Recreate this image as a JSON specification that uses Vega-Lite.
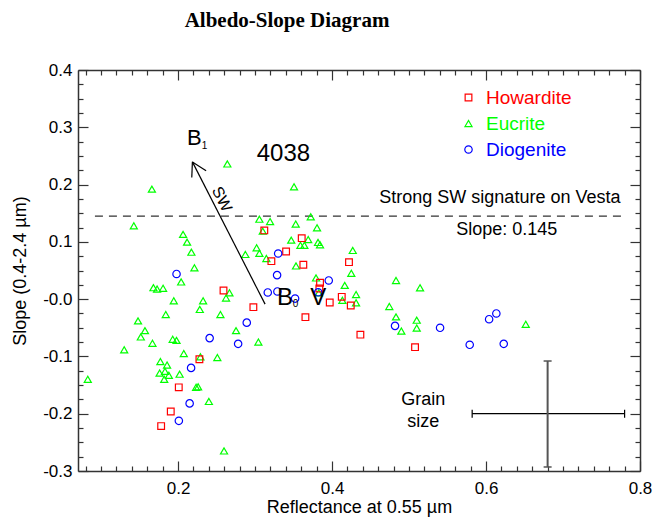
{
  "$schema": "https://vega.github.io/schema/vega-lite/v6.json",
  "width": 562,
  "height": 401,
  "autosize": "none",
  "padding": {"left": 78, "top": 70, "right": 15, "bottom": 47},
  "background": "white",
  "title": {"text": "Albedo-Slope Diagram", "font": "Liberation Serif", "fontSize": 21, "fontWeight": "bold", "color": "#000000", "offset": 30, "anchor": "middle", "dx": -72},
  "config": {
    "view": {"stroke": null},
    "axis": {"domainColor": "#333333", "domainWidth": 1.5, "tickColor": "#333333", "tickWidth": 1.2, "labelFont": "Liberation Sans", "labelFontSize": 17, "labelColor": "#000000", "titleFont": "Liberation Sans", "titleFontSize": 18, "titleFontWeight": "normal", "titleColor": "#000000", "grid": false},
    "text": {"font": "Liberation Sans", "color": "#000000"}
  },
  "datasets": {
    "pts": [
      {"type": "Eucrite", "x": 0.264, "y": 0.236},
      {"type": "Eucrite", "x": 0.166, "y": 0.192},
      {"type": "Eucrite", "x": 0.1425, "y": 0.128},
      {"type": "Eucrite", "x": 0.2065, "y": 0.113},
      {"type": "Eucrite", "x": 0.2117, "y": 0.0995},
      {"type": "Eucrite", "x": 0.2173, "y": 0.082},
      {"type": "Eucrite", "x": 0.2212, "y": 0.0547},
      {"type": "Eucrite", "x": 0.204, "y": 0.030},
      {"type": "Eucrite", "x": 0.168, "y": 0.020},
      {"type": "Eucrite", "x": 0.1727, "y": 0.0175},
      {"type": "Eucrite", "x": 0.1805, "y": 0.019},
      {"type": "Eucrite", "x": 0.2667, "y": 0.011},
      {"type": "Eucrite", "x": 0.2623, "y": 0.002},
      {"type": "Eucrite", "x": 0.1944, "y": -0.003},
      {"type": "Eucrite", "x": 0.2325, "y": -0.003},
      {"type": "Eucrite", "x": 0.2282, "y": -0.018},
      {"type": "Eucrite", "x": 0.184, "y": -0.027},
      {"type": "Eucrite", "x": 0.255, "y": -0.027},
      {"type": "Eucrite", "x": 0.148, "y": -0.038},
      {"type": "Eucrite", "x": 0.157, "y": -0.055},
      {"type": "Eucrite", "x": 0.1516, "y": -0.066},
      {"type": "Eucrite", "x": 0.1667, "y": -0.077},
      {"type": "Eucrite", "x": 0.193, "y": -0.070},
      {"type": "Eucrite", "x": 0.198, "y": -0.072},
      {"type": "Eucrite", "x": 0.130, "y": -0.0885},
      {"type": "Eucrite", "x": 0.2074, "y": -0.095},
      {"type": "Eucrite", "x": 0.229, "y": -0.1006},
      {"type": "Eucrite", "x": 0.251, "y": -0.102},
      {"type": "Eucrite", "x": 0.177, "y": -0.109},
      {"type": "Eucrite", "x": 0.1857, "y": -0.115},
      {"type": "Eucrite", "x": 0.176, "y": -0.129},
      {"type": "Eucrite", "x": 0.183, "y": -0.126},
      {"type": "Eucrite", "x": 0.188, "y": -0.133},
      {"type": "Eucrite", "x": 0.182, "y": -0.140},
      {"type": "Eucrite", "x": 0.202, "y": -0.131},
      {"type": "Eucrite", "x": 0.0827, "y": -0.140},
      {"type": "Eucrite", "x": 0.2234, "y": -0.154},
      {"type": "Eucrite", "x": 0.226, "y": -0.153},
      {"type": "Eucrite", "x": 0.240, "y": -0.1786},
      {"type": "Eucrite", "x": 0.2597, "y": -0.265},
      {"type": "Eucrite", "x": 0.3506, "y": 0.196},
      {"type": "Eucrite", "x": 0.3056, "y": 0.1396},
      {"type": "Eucrite", "x": 0.3195, "y": 0.1355},
      {"type": "Eucrite", "x": 0.3723, "y": 0.1437},
      {"type": "Eucrite", "x": 0.3528, "y": 0.131},
      {"type": "Eucrite", "x": 0.3805, "y": 0.1245},
      {"type": "Eucrite", "x": 0.310, "y": 0.1187},
      {"type": "Eucrite", "x": 0.347, "y": 0.103},
      {"type": "Eucrite", "x": 0.369, "y": 0.104},
      {"type": "Eucrite", "x": 0.3589, "y": 0.094},
      {"type": "Eucrite", "x": 0.364, "y": 0.094},
      {"type": "Eucrite", "x": 0.3818, "y": 0.099},
      {"type": "Eucrite", "x": 0.3844, "y": 0.095},
      {"type": "Eucrite", "x": 0.4269, "y": 0.085},
      {"type": "Eucrite", "x": 0.302, "y": 0.0895},
      {"type": "Eucrite", "x": 0.2874, "y": 0.078},
      {"type": "Eucrite", "x": 0.3056, "y": 0.080},
      {"type": "Eucrite", "x": 0.3147, "y": 0.071},
      {"type": "Eucrite", "x": 0.3532, "y": 0.058},
      {"type": "Eucrite", "x": 0.425, "y": 0.045},
      {"type": "Eucrite", "x": 0.3792, "y": 0.037},
      {"type": "Eucrite", "x": 0.4165, "y": 0.024},
      {"type": "Eucrite", "x": 0.3827, "y": 0.011},
      {"type": "Eucrite", "x": 0.4312, "y": 0.008},
      {"type": "Eucrite", "x": 0.4134, "y": -0.002},
      {"type": "Eucrite", "x": 0.4312, "y": -0.0064},
      {"type": "Eucrite", "x": 0.2753, "y": -0.055},
      {"type": "Eucrite", "x": 0.3043, "y": -0.075},
      {"type": "Eucrite", "x": 0.4831, "y": 0.0326},
      {"type": "Eucrite", "x": 0.5143, "y": 0.0197},
      {"type": "Eucrite", "x": 0.4744, "y": -0.0128},
      {"type": "Eucrite", "x": 0.4831, "y": -0.031},
      {"type": "Eucrite", "x": 0.490, "y": -0.0558},
      {"type": "Eucrite", "x": 0.510, "y": -0.0367},
      {"type": "Eucrite", "x": 0.510, "y": -0.0506},
      {"type": "Eucrite", "x": 0.6516, "y": -0.044},
      {"type": "Howardite", "x": 0.259, "y": 0.015},
      {"type": "Howardite", "x": 0.2277, "y": -0.105},
      {"type": "Howardite", "x": 0.2009, "y": -0.154},
      {"type": "Howardite", "x": 0.1905, "y": -0.196},
      {"type": "Howardite", "x": 0.178, "y": -0.2216},
      {"type": "Howardite", "x": 0.312, "y": 0.120},
      {"type": "Howardite", "x": 0.3606, "y": 0.1065},
      {"type": "Howardite", "x": 0.3403, "y": 0.0832},
      {"type": "Howardite", "x": 0.3212, "y": 0.0663},
      {"type": "Howardite", "x": 0.3627, "y": 0.060},
      {"type": "Howardite", "x": 0.422, "y": 0.0646},
      {"type": "Howardite", "x": 0.3844, "y": 0.0285},
      {"type": "Howardite", "x": 0.3835, "y": 0.0187},
      {"type": "Howardite", "x": 0.4126, "y": 0.004},
      {"type": "Howardite", "x": 0.397, "y": -0.0058},
      {"type": "Howardite", "x": 0.4243, "y": -0.011},
      {"type": "Howardite", "x": 0.2978, "y": -0.014},
      {"type": "Howardite", "x": 0.3654, "y": -0.0314},
      {"type": "Howardite", "x": 0.4368, "y": -0.062},
      {"type": "Howardite", "x": 0.5078, "y": -0.0838},
      {"type": "Diogenite", "x": 0.198, "y": 0.044},
      {"type": "Diogenite", "x": 0.241, "y": -0.068},
      {"type": "Diogenite", "x": 0.2169, "y": -0.12},
      {"type": "Diogenite", "x": 0.215, "y": -0.182},
      {"type": "Diogenite", "x": 0.201, "y": -0.2124},
      {"type": "Diogenite", "x": 0.33, "y": 0.0797},
      {"type": "Diogenite", "x": 0.3286, "y": 0.042},
      {"type": "Diogenite", "x": 0.3957, "y": 0.0326},
      {"type": "Diogenite", "x": 0.3165, "y": 0.0117},
      {"type": "Diogenite", "x": 0.329, "y": 0.0134},
      {"type": "Diogenite", "x": 0.352, "y": 0.001},
      {"type": "Diogenite", "x": 0.382, "y": 0.012},
      {"type": "Diogenite", "x": 0.2892, "y": -0.041},
      {"type": "Diogenite", "x": 0.278, "y": -0.078},
      {"type": "Diogenite", "x": 0.4818, "y": -0.0466},
      {"type": "Diogenite", "x": 0.5403, "y": -0.050},
      {"type": "Diogenite", "x": 0.5788, "y": -0.0797},
      {"type": "Diogenite", "x": 0.604, "y": -0.035},
      {"type": "Diogenite", "x": 0.6134, "y": -0.025},
      {"type": "Diogenite", "x": 0.623, "y": -0.078}
    ],
    "dashed": [{"x": 0.092, "x2": 0.78, "y": 0.145}],
    "blacklines": [
      {"x": 0.313, "y": -0.0087, "x2": 0.2186, "y2": 0.2396},
      {"x": 0.2186, "y": 0.2396, "x2": 0.2178, "y2": 0.2125},
      {"x": 0.2186, "y": 0.2396, "x2": 0.2364, "y2": 0.224},
      {"x": 0.582, "y": -0.2, "x2": 0.78, "y2": -0.2}
    ],
    "graylines": [{"x": 0.68, "y": -0.108, "x2": 0.68, "y2": -0.293}],
    "blackcaps": [{"x": 0.582, "y": -0.2}, {"x": 0.78, "y": -0.2}],
    "graycaps": [{"x": 0.68, "y": -0.108}, {"x": 0.68, "y": -0.293}],
    "t24": [{"t": "4038", "x": 0.3368, "y": 0.254}, {"t": "V", "x": 0.3822, "y": 0.0023}, {"t": "B", "x": 0.339, "y": 0.0023}],
    "t22": [{"t": "B", "x": 0.221, "y": 0.282}],
    "tsub": [{"t": "1", "x": 0.2345, "y": 0.2675}, {"t": "0", "x": 0.3525, "y": -0.0085}],
    "t18": [
      {"t": "Strong SW signature on Vesta", "x": 0.618, "y": 0.176},
      {"t": "Slope: 0.145", "x": 0.627, "y": 0.12},
      {"t": "Grain", "x": 0.5186, "y": -0.176},
      {"t": "size", "x": 0.5186, "y": -0.214}
    ],
    "tsw": [{"t": "SW", "x": 0.2568, "y": 0.1745}]
  },
  "resolve": {"axis": {"x": "independent", "y": "independent"}},
  "layer": [
    {
      "data": {"name": "dashed"},
      "mark": {"type": "rule", "color": "#333333", "strokeWidth": 1.3, "strokeDash": [8, 6]},
      "encoding": {
        "x": {"field": "x", "type": "quantitative", "scale": {"domain": [0.07, 0.8], "nice": false, "zero": false},
          "axis": {"orient": "top", "title": null, "labels": false, "values": [0.08,0.1,0.12,0.14,0.16,0.18,0.2,0.22,0.24,0.26,0.28,0.3,0.32,0.34,0.36,0.38,0.4,0.42,0.44,0.46,0.48,0.5,0.52,0.54,0.56,0.58,0.6,0.62,0.64,0.66,0.68,0.7,0.72,0.74,0.76,0.78,0.8],
            "tickSize": {"condition": {"test": "abs(datum.value*5-round(datum.value*5))<0.001", "value": -10}, "value": -5}}},
        "x2": {"field": "x2"},
        "y": {"field": "y", "type": "quantitative", "scale": {"domain": [-0.3, 0.4], "nice": false, "zero": false},
          "axis": {"orient": "right", "title": null, "labels": false, "values": [-0.3,-0.275,-0.25,-0.225,-0.2,-0.175,-0.15,-0.125,-0.1,-0.075,-0.05,-0.025,0,0.025,0.05,0.075,0.1,0.125,0.15,0.175,0.2,0.225,0.25,0.275,0.3,0.325,0.35,0.375,0.4],
            "tickSize": {"condition": {"test": "abs(datum.value*10-round(datum.value*10))<0.001", "value": -10}, "value": -5}}}
      }
    },
    {
      "data": {"name": "pts"},
      "mark": {"type": "point", "filled": false, "strokeWidth": 1.2, "opacity": 1},
      "encoding": {
        "x": {"field": "x", "type": "quantitative", "scale": {"domain": [0.07, 0.8], "nice": false, "zero": false},
          "axis": {"orient": "bottom", "title": "Reflectance at 0.55 µm", "titlePadding": -3, "labelOverlap": false, "labelFlush": false, "labelPadding": 19,
            "values": [0.08,0.1,0.12,0.14,0.16,0.18,0.2,0.22,0.24,0.26,0.28,0.3,0.32,0.34,0.36,0.38,0.4,0.42,0.44,0.46,0.48,0.5,0.52,0.54,0.56,0.58,0.6,0.62,0.64,0.66,0.68,0.7,0.72,0.74,0.76,0.78,0.8],
            "labelExpr": "abs(datum.value*5-round(datum.value*5))<0.001 ? format(datum.value,'.1f') : ''",
            "tickSize": {"condition": {"test": "abs(datum.value*5-round(datum.value*5))<0.001", "value": -10}, "value": -5}}},
        "y": {"field": "y", "type": "quantitative", "scale": {"domain": [-0.3, 0.4], "nice": false, "zero": false},
          "axis": {"orient": "left", "title": "Slope (0.4-2.4 µm)", "titlePadding": 13, "labelOverlap": false, "labelFlush": false, "labelPadding": 16,
            "values": [-0.3,-0.275,-0.25,-0.225,-0.2,-0.175,-0.15,-0.125,-0.1,-0.075,-0.05,-0.025,0,0.025,0.05,0.075,0.1,0.125,0.15,0.175,0.2,0.225,0.25,0.275,0.3,0.325,0.35,0.375,0.4],
            "labelExpr": "abs(datum.value*10-round(datum.value*10))<0.001 ? (datum.value < 0.0001 ? '-' : '') + format(abs(datum.value),'.1f') : ''",
            "tickSize": {"condition": {"test": "abs(datum.value*10-round(datum.value*10))<0.001", "value": -10}, "value": -5}}},
        "color": {"field": "type", "type": "nominal",
          "scale": {"domain": ["Howardite", "Eucrite", "Diogenite"], "range": ["#ff0000", "#00ff00", "#0000ff"]},
          "legend": {"orient": "none", "legendX": 381, "legendY": 18, "title": null, "labelFont": "Liberation Sans", "labelFontSize": 19, "symbolSize": 40, "symbolStrokeWidth": 1.2, "rowPadding": 6, "labelOffset": 8,
            "encoding": {"labels": {"fill": {"condition": [{"test": "datum.value === 'Howardite'", "value": "#ff0000"}, {"test": "datum.value === 'Eucrite'", "value": "#00ff00"}], "value": "#0000ff"}}}}},
        "shape": {"field": "type", "type": "nominal",
          "scale": {"domain": ["Howardite", "Eucrite", "Diogenite"], "range": ["square", "triangle-up", "circle"]},
          "legend": {"orient": "none", "legendX": 381, "legendY": 18, "title": null, "labelFont": "Liberation Sans", "labelFontSize": 19, "symbolSize": 40, "symbolStrokeWidth": 1.2, "rowPadding": 6, "labelOffset": 8,
            "encoding": {"labels": {"fill": {"condition": [{"test": "datum.value === 'Howardite'", "value": "#ff0000"}, {"test": "datum.value === 'Eucrite'", "value": "#00ff00"}], "value": "#0000ff"}}}}},
        "size": {"field": "type", "type": "nominal", "scale": {"domain": ["Howardite", "Eucrite", "Diogenite"], "range": [45, 55, 80]}, "legend": null}
      }
    },
    {
      "data": {"name": "blacklines"},
      "mark": {"type": "rule", "color": "#000000", "strokeWidth": 1.2},
      "encoding": {
        "x": {"field": "x", "type": "quantitative", "scale": {"domain": [0.07, 0.8], "nice": false, "zero": false}, "axis": null},
        "x2": {"field": "x2"},
        "y": {"field": "y", "type": "quantitative", "scale": {"domain": [-0.3, 0.4], "nice": false, "zero": false}, "axis": null},
        "y2": {"field": "y2"}
      }
    },
    {
      "data": {"name": "graylines"},
      "mark": {"type": "rule", "color": "#555555", "strokeWidth": 2},
      "encoding": {
        "x": {"field": "x", "type": "quantitative", "scale": {"domain": [0.07, 0.8], "nice": false, "zero": false}, "axis": null},
        "y": {"field": "y", "type": "quantitative", "scale": {"domain": [-0.3, 0.4], "nice": false, "zero": false}, "axis": null},
        "y2": {"field": "y2"}
      }
    },
    {
      "data": {"name": "blackcaps"},
      "mark": {"type": "tick", "orient": "vertical", "size": 8, "thickness": 1.2, "color": "#000000", "opacity": 1},
      "encoding": {
        "x": {"field": "x", "type": "quantitative", "scale": {"domain": [0.07, 0.8], "nice": false, "zero": false}, "axis": null},
        "y": {"field": "y", "type": "quantitative", "scale": {"domain": [-0.3, 0.4], "nice": false, "zero": false}, "axis": null}
      }
    },
    {
      "data": {"name": "graycaps"},
      "mark": {"type": "tick", "orient": "horizontal", "size": 8, "thickness": 1.5, "color": "#555555", "opacity": 1},
      "encoding": {
        "x": {"field": "x", "type": "quantitative", "scale": {"domain": [0.07, 0.8], "nice": false, "zero": false}, "axis": null},
        "y": {"field": "y", "type": "quantitative", "scale": {"domain": [-0.3, 0.4], "nice": false, "zero": false}, "axis": null}
      }
    },
    {
      "data": {"name": "t24"},
      "mark": {"type": "text", "fontSize": 24, "align": "center", "baseline": "middle"},
      "encoding": {
        "x": {"field": "x", "type": "quantitative", "scale": {"domain": [0.07, 0.8], "nice": false, "zero": false}, "axis": null},
        "y": {"field": "y", "type": "quantitative", "scale": {"domain": [-0.3, 0.4], "nice": false, "zero": false}, "axis": null},
        "text": {"field": "t"}
      }
    },
    {
      "data": {"name": "t22"},
      "mark": {"type": "text", "fontSize": 22, "align": "center", "baseline": "middle"},
      "encoding": {
        "x": {"field": "x", "type": "quantitative", "scale": {"domain": [0.07, 0.8], "nice": false, "zero": false}, "axis": null},
        "y": {"field": "y", "type": "quantitative", "scale": {"domain": [-0.3, 0.4], "nice": false, "zero": false}, "axis": null},
        "text": {"field": "t"}
      }
    },
    {
      "data": {"name": "tsub"},
      "mark": {"type": "text", "fontSize": 10, "align": "center", "baseline": "middle"},
      "encoding": {
        "x": {"field": "x", "type": "quantitative", "scale": {"domain": [0.07, 0.8], "nice": false, "zero": false}, "axis": null},
        "y": {"field": "y", "type": "quantitative", "scale": {"domain": [-0.3, 0.4], "nice": false, "zero": false}, "axis": null},
        "text": {"field": "t"}
      }
    },
    {
      "data": {"name": "t18"},
      "mark": {"type": "text", "fontSize": 18, "align": "center", "baseline": "middle"},
      "encoding": {
        "x": {"field": "x", "type": "quantitative", "scale": {"domain": [0.07, 0.8], "nice": false, "zero": false}, "axis": null},
        "y": {"field": "y", "type": "quantitative", "scale": {"domain": [-0.3, 0.4], "nice": false, "zero": false}, "axis": null},
        "text": {"field": "t"}
      }
    },
    {
      "data": {"name": "tsw"},
      "mark": {"type": "text", "fontSize": 16, "align": "center", "baseline": "middle", "angle": 63},
      "encoding": {
        "x": {"field": "x", "type": "quantitative", "scale": {"domain": [0.07, 0.8], "nice": false, "zero": false}, "axis": null},
        "y": {"field": "y", "type": "quantitative", "scale": {"domain": [-0.3, 0.4], "nice": false, "zero": false}, "axis": null},
        "text": {"field": "t"}
      }
    }
  ]
}
